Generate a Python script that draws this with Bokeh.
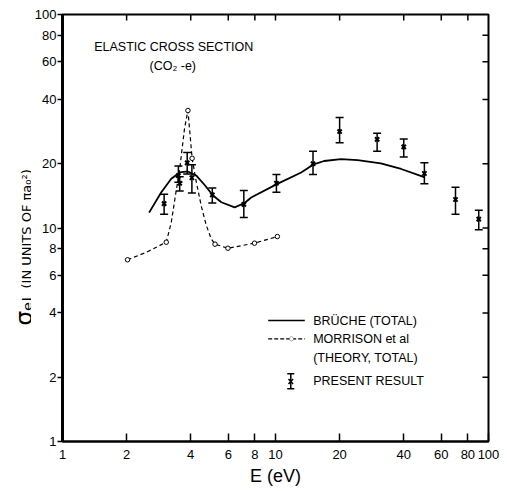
import math
from bokeh.plotting import figure
from bokeh.layouts import row
from bokeh.models import (ColumnDataSource, Whisker, TeeHead, FixedTicker, Span,
                          Label, Arrow, PolyAnnotation, Range1d)
from bokeh.embed import file_html
from bokeh.resources import INLINE

# ---- data ----
# Present result (energy eV, cross section, error bar low/high)
e_meas = [3.0, 3.5, 3.55, 3.85, 4.05, 5.05, 7.1, 10.1, 15.0, 20.0, 30.0, 40.0, 50.0, 70.0, 90.0]
s_meas = [13.0, 17.6, 16.2, 20.2, 17.2, 14.3, 12.9, 16.2, 20.0, 28.3, 26.0, 24.0, 18.0, 13.6, 11.0]
s_low = [11.6, 16.4, 14.9, 17.9, 14.6, 13.1, 11.2, 14.7, 17.8, 25.1, 22.9, 21.5, 16.1, 11.6, 9.8]
s_high = [14.4, 19.5, 17.4, 22.6, 19.8, 15.4, 15.0, 17.8, 22.9, 32.9, 27.8, 26.1, 20.2, 15.5, 12.1]

# Bruche (total)
e_bruche = [2.55, 2.91, 3.24, 3.55, 3.88, 4.25, 4.65, 5.09, 5.57, 6.43, 7.16, 7.69,
            10.2, 13.2, 15.0, 16.9, 20.3, 24.3, 31.2, 38.9, 49.9]
s_bruche = [11.8, 14.7, 17.0, 18.2, 18.4, 17.6, 15.9, 14.2, 13.2, 12.5, 13.1, 13.9,
            16.1, 18.2, 19.8, 20.6, 21.0, 20.8, 20.1, 18.9, 17.3]

# Morrison et al (theory, total): curve and its marked points
e_morr = [2.02, 2.48, 3.07, 3.24, 3.39, 3.55, 3.74, 3.88, 4.06, 4.25, 4.48, 4.73, 4.99,
          5.2, 5.98, 7.97, 10.2]
s_morr = [7.1, 7.7, 8.58, 10.6, 14.2, 18.9, 29.2, 35.5, 21.2, 16.4, 12.7, 10.3, 8.9,
          8.4, 8.04, 8.49, 9.12]
e_morr_pts = [2.02, 3.07, 3.88, 4.06, 5.2, 5.98, 7.97, 10.2]
s_morr_pts = [7.1, 8.58, 35.5, 21.2, 8.4, 8.04, 8.49, 9.12]

ticks = [1, 2, 4, 6, 8, 10, 20, 40, 60, 80, 100]
tick_labels = ["1", "2", "4", "6", "8", "10", "20", "40", "60", "80", "100"]
inner_ticks = [2, 4, 6, 8, 10, 20, 40, 60, 80]

FONT = "Liberation Sans"
H = 489
LEFT_W = 31
FRAME = 427            # frame size in pixels (square, two decades)
TICK_PX = 6            # inward tick length on top/right edges
LO, HI = 1, 100

# ---- narrow strip holding the rotated y-axis title ----
lf = figure(width=LEFT_W, height=H, x_range=Range1d(0, 1), y_range=Range1d(0, 1),
            output_backend="svg", toolbar_location=None,
            x_axis_location=None, y_axis_location=None,
            min_border_left=0, min_border_right=0, min_border_top=14, min_border_bottom=48)
lf.grid.visible = False
lf.outline_line_color = None
lf.add_layout(Label(text="σₑₗ", x=23, y=116, x_units="screen", y_units="screen",
                    angle=math.pi / 2, text_font="DejaVu Sans", text_font_size="23px",
                    text_color="black", text_align="left", text_baseline="alphabetic"))
lf.add_layout(Label(text="(IN UNITS OF πa₀²)", x=26, y=153, x_units="screen",
                    y_units="screen", angle=math.pi / 2, text_font="DejaVu Sans",
                    text_font_size="13px", text_color="black", text_align="left",
                    text_baseline="alphabetic"))

# ---- main plot ----
p = figure(width=472, height=H, x_axis_type="log", y_axis_type="log",
           x_range=Range1d(LO, HI), y_range=Range1d(LO, HI),
           output_backend="svg", toolbar_location=None,
           min_border_left=61 - LEFT_W, min_border_right=15, min_border_top=14,
           min_border_bottom=48)
p.grid.visible = False
p.outline_line_color = "black"
p.outline_line_width = 2

overrides = {t: l for t, l in zip(ticks, tick_labels)}
for ax in (p.xaxis[0], p.yaxis[0]):
    ax.ticker = FixedTicker(ticks=ticks, minor_ticks=[])
    ax.major_label_overrides = overrides
    ax.major_label_text_font = FONT
    ax.major_label_text_font_size = "13px"
    ax.major_label_text_color = "black"
    ax.minor_tick_line_color = None
    ax.major_tick_line_width = 1.5
    ax.major_tick_line_color = "black"
    ax.axis_line_color = "black"

p.xaxis.axis_line_width = 2
p.xaxis.major_tick_in = 8
p.xaxis.major_tick_out = 0
p.xaxis.major_label_standoff = 8
p.xaxis.axis_label = "E (eV)"
p.xaxis.axis_label_text_font = FONT
p.xaxis.axis_label_text_font_size = "18px"
p.xaxis.axis_label_text_font_style = "normal"
p.xaxis.axis_label_text_color = "black"
p.xaxis.axis_label_standoff = 4

p.yaxis.axis_line_width = 3
p.yaxis.major_tick_in = 0
p.yaxis.major_tick_out = 5
p.yaxis.major_label_standoff = 1

# thicker left frame edge
p.add_layout(Span(location=LO, dimension="height", line_color="black", line_width=3))

# inward tick marks on the top and right frame edges (length TICK_PX pixels)
inner_end = HI / 10 ** (TICK_PX / (FRAME / math.log10(HI / LO)))
p.segment(x0=inner_ticks, y0=[HI] * len(inner_ticks), x1=inner_ticks,
          y1=[inner_end] * len(inner_ticks), line_color="black", line_width=1.5)
p.segment(x0=[HI] * len(inner_ticks), y0=inner_ticks, x1=[inner_end] * len(inner_ticks),
          y1=inner_ticks, line_color="black", line_width=1.5)

# ---- data marks ----
p.line(e_bruche, s_bruche, line_color="black", line_width=1.8)
p.line(e_morr, s_morr, line_color="black", line_width=1.2, line_dash="4 3")
p.scatter(e_morr_pts, s_morr_pts, marker="circle", size=4.5, fill_color="white",
          line_color="black", line_width=1)

src = ColumnDataSource(dict(x=e_meas, y=s_meas, lo=s_low, hi=s_high))
p.add_layout(Whisker(source=src, base="x", upper="hi", lower="lo", dimension="height",
                     line_color="black", line_width=1.5,
                     upper_head=TeeHead(size=8, line_width=1.5, line_color="black"),
                     lower_head=TeeHead(size=8, line_width=1.5, line_color="black")))
p.scatter("x", "y", source=src, marker="x", size=6, line_color="black", line_width=2)

# ---- texts (frame screen coordinates) ----
def lab(text, x, y, size="12.5px", font=FONT):
    p.add_layout(Label(text=text, x=x, y=y, x_units="screen", y_units="screen",
                       text_font=font, text_font_size=size, text_color="black",
                       text_baseline="middle", text_align="left"))

lab("ELASTIC CROSS SECTION", 31.7, 395)
lab("(CO₂ -e)", 87, 376)

lab("BRÜCHE  (TOTAL)", 250.7, 121)
lab("MORRISON  et al", 250.7, 102.7)
lab("(THEORY,  TOTAL)", 250.7, 83.7)
lab("PRESENT RESULT", 250.7, 60.3)

# ---- legend samples ----
def seg(x0, y0, x1, y1, **kw):
    p.add_layout(Arrow(x_start=x0, y_start=y0, x_end=x1, y_end=y1,
                       start_units="screen", end_units="screen",
                       start=kw.pop("start", None), end=kw.pop("end", None),
                       line_color="black", **kw))

seg(205.7, 121, 242.3, 121, line_width=1.5)
seg(205.7, 102.7, 242.3, 102.7, line_width=1.2, line_dash="4 2")
cx, cy, r = 229, 102.7, 2.2
p.add_layout(PolyAnnotation(xs=[cx + r * math.cos(k * math.pi / 4) for k in range(8)],
                            ys=[cy + r * math.sin(k * math.pi / 4) for k in range(8)],
                            xs_units="screen", ys_units="screen",
                            fill_color="white", fill_alpha=1, line_color="black", line_width=1))
seg(228.3, 52.7, 228.3, 67.7, line_width=1.5,
    start=TeeHead(size=7, line_width=1.5, line_color="black"),
    end=TeeHead(size=7, line_width=1.5, line_color="black"))
seg(226, 57.5, 230.6, 62.5, line_width=1.5)
seg(226, 62.5, 230.6, 57.5, line_width=1.5)

layout = row(lf, p)
open("out.html", "w").write(file_html(layout, INLINE))
